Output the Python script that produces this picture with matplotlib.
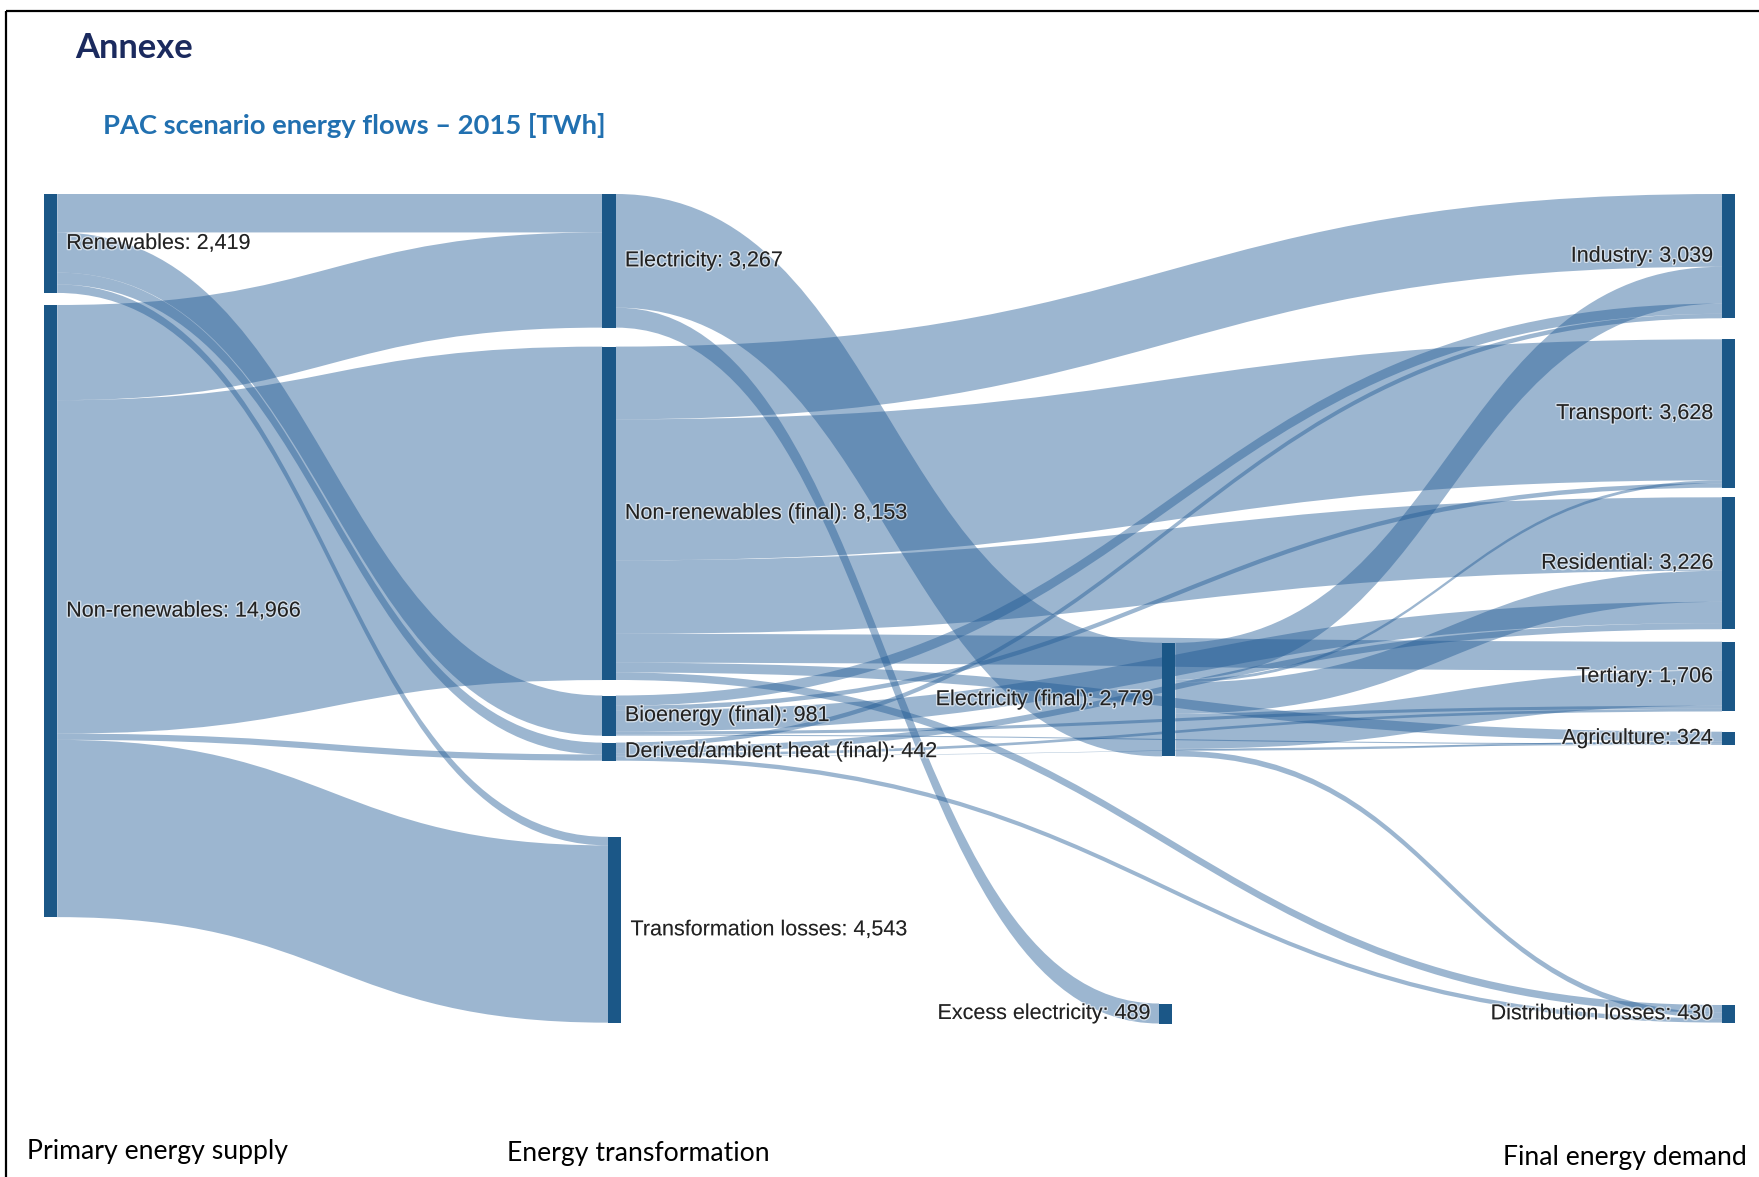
import matplotlib
matplotlib.use("Agg")
import matplotlib.pyplot as plt
from matplotlib.path import Path
from matplotlib.patches import PathPatch, Rectangle
import matplotlib.patheffects as pe

# ---------------- data (TWh) ----------------
node_names = [
    "Renewables", "Non-renewables",
    "Electricity", "Non-renewables (final)", "Bioenergy (final)",
    "Derived/ambient heat (final)", "Transformation losses",
    "Electricity (final)", "Excess electricity",
    "Industry", "Transport", "Residential", "Tertiary", "Agriculture",
    "Distribution losses",
]
node_values = [2419, 14966, 3267, 8153, 981, 442, 4543, 2779, 489,
               3039, 3628, 3226, 1706, 324, 430]

link_source = [
    "Renewables", "Renewables", "Renewables", "Renewables",
    "Non-renewables", "Non-renewables", "Non-renewables", "Non-renewables",
    "Electricity", "Electricity",
    "Non-renewables (final)", "Non-renewables (final)", "Non-renewables (final)",
    "Non-renewables (final)", "Non-renewables (final)", "Non-renewables (final)",
    "Electricity (final)", "Electricity (final)", "Electricity (final)",
    "Electricity (final)", "Electricity (final)", "Electricity (final)",
    "Bioenergy (final)", "Bioenergy (final)", "Bioenergy (final)",
    "Bioenergy (final)", "Bioenergy (final)",
    "Derived/ambient heat (final)", "Derived/ambient heat (final)",
    "Derived/ambient heat (final)", "Derived/ambient heat (final)",
    "Derived/ambient heat (final)",
]
link_target = [
    "Electricity", "Bioenergy (final)", "Derived/ambient heat (final)", "Transformation losses",
    "Electricity", "Non-renewables (final)", "Derived/ambient heat (final)", "Transformation losses",
    "Electricity (final)", "Excess electricity",
    "Industry", "Transport", "Residential", "Tertiary", "Agriculture", "Distribution losses",
    "Industry", "Transport", "Residential", "Tertiary", "Agriculture", "Distribution losses",
    "Industry", "Transport", "Residential", "Tertiary", "Agriculture",
    "Industry", "Residential", "Tertiary", "Agriculture", "Distribution losses",
]
link_value = [
    940, 981, 290, 208,
    2327, 8153, 152, 4334,
    2778, 489,
    1779, 3448, 1796, 706, 238, 184,
    900, 70, 760, 860, 50, 139,
    250, 110, 520, 75, 26,
    110, 150, 65, 10, 107,
]

stage_labels = ["Primary energy supply", "Energy transformation", "Final energy demand"]

# ---------------- layout (figure pixels) ----------------
W, H = 1759, 1177
PX_PER_TWH = 0.0409
NODE_W = 13.5
node_x = {
    "Renewables": 43.7, "Non-renewables": 43.7,
    "Electricity": 602.4, "Non-renewables (final)": 602.4, "Bioenergy (final)": 602.4,
    "Derived/ambient heat (final)": 602.4, "Transformation losses": 608.0,
    "Electricity (final)": 1162.0, "Excess electricity": 1159.0,
    "Industry": 1722.0, "Transport": 1722.0, "Residential": 1722.0, "Tertiary": 1722.0,
    "Agriculture": 1722.0, "Distribution losses": 1722.0,
}
node_top = {
    "Renewables": 194.0, "Non-renewables": 305.0,
    "Electricity": 194.0, "Non-renewables (final)": 346.6, "Bioenergy (final)": 695.5,
    "Derived/ambient heat (final)": 742.6, "Transformation losses": 836.9,
    "Electricity (final)": 642.8, "Excess electricity": 1003.5,
    "Industry": 194.0, "Transport": 339.3, "Residential": 497.3, "Tertiary": 641.7,
    "Agriculture": 731.7, "Distribution losses": 1005.0,
}
label_left_side = {"Electricity (final)", "Excess electricity", "Industry", "Transport",
                   "Residential", "Tertiary", "Agriculture", "Distribution losses"}

LINK_RGBA = (0.12, 0.35, 0.58, 0.44)
NODE_COLOR = "#1b5787"
LABEL_FONT = ["Liberation Sans", "DejaVu Sans"]
HEAD_FONT = ["Lato", "Open Sans", "DejaVu Sans"]

# ---------------- figure ----------------
fig = plt.figure(figsize=(W / 100, H / 100), dpi=100)
ax = fig.add_axes([0, 0, 1, 1])
ax.set_xlim(0, W)
ax.set_ylim(H, 0)
ax.axis("off")

value_of = dict(zip(node_names, node_values))
height_of = {n: v * PX_PER_TWH for n, v in value_of.items()}

# stack links at both ends, d3-sankey style
links = list(zip(link_source, link_target, link_value))
src_offset = {n: node_top[n] for n in node_names}
tgt_offset = {n: node_top[n] for n in node_names}
src_y, tgt_y = {}, {}
for i in sorted(range(len(links)), key=lambda i: (links[i][0], node_top[links[i][1]])):
    s, t, v = links[i]
    src_y[i] = src_offset[s]
    src_offset[s] += v * PX_PER_TWH
for i in sorted(range(len(links)), key=lambda i: (links[i][1], node_top[links[i][0]])):
    s, t, v = links[i]
    tgt_y[i] = tgt_offset[t]
    tgt_offset[t] += v * PX_PER_TWH

for i, (s, t, v) in enumerate(links):
    w = v * PX_PER_TWH
    x0 = node_x[s] + NODE_W
    x1 = node_x[t]
    xm = (x0 + x1) / 2
    y0, y1 = src_y[i], tgt_y[i]
    verts = [(x0, y0), (xm, y0), (xm, y1), (x1, y1),
             (x1, y1 + w), (xm, y1 + w), (xm, y0 + w), (x0, y0 + w), (x0, y0)]
    codes = [Path.MOVETO, Path.CURVE4, Path.CURVE4, Path.CURVE4,
             Path.LINETO, Path.CURVE4, Path.CURVE4, Path.CURVE4, Path.CLOSEPOLY]
    ax.add_patch(PathPatch(Path(verts, codes), facecolor=LINK_RGBA,
                           edgecolor="none", lw=0, zorder=1))

halo = [pe.withStroke(linewidth=2.0, foreground=(1, 1, 1, 0.55))]
for n in node_names:
    h = height_of[n]
    ax.add_patch(Rectangle((node_x[n], node_top[n]), NODE_W, h,
                           facecolor=NODE_COLOR, edgecolor="none", zorder=3))
    label = f"{n}: {value_of[n]:,}"
    yc = node_top[n] + h / 2
    if n in label_left_side:
        ax.text(node_x[n] - 9, yc, label, ha="right", va="center", fontsize=15.5,
                family=LABEL_FONT, color="#222222", zorder=4, path_effects=halo)
    else:
        ax.text(node_x[n] + NODE_W + 9, yc, label, ha="left", va="center", fontsize=15.5,
                family=LABEL_FONT, color="#222222", zorder=4, path_effects=halo)

# headings
ax.text(75, 48, "Annexe", ha="left", va="center", fontsize=24.8, fontweight="bold",
        family=HEAD_FONT, color="#1b2a5e")
ax.text(103, 126, "PAC scenario energy flows \u2013 2015 [TWh]", ha="left", va="center",
        fontsize=19.75, fontweight="bold", family=HEAD_FONT, color="#2170b0")

# stage captions
ax.text(27, 1152, stage_labels[0], ha="left", va="center", fontsize=19.2,
        family=HEAD_FONT, color="black")
ax.text(507, 1153, stage_labels[1], ha="left", va="center", fontsize=19.2,
        family=HEAD_FONT, color="black")
ax.text(1747, 1158, stage_labels[2], ha="right", va="center", fontsize=19.2,
        family=HEAD_FONT, color="black")

# page frame
ax.plot([6, W], [11, 11], color="black", lw=1.6, solid_capstyle="butt")
ax.plot([6, 6], [11, H], color="black", lw=1.6, solid_capstyle="butt")

fig.savefig("out.png", dpi=100, facecolor="white")
